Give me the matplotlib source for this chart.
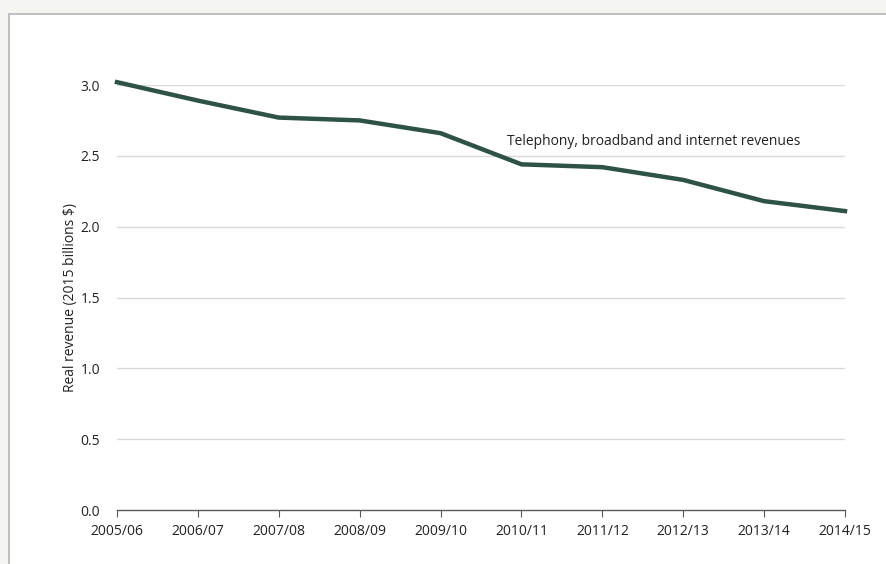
import matplotlib
matplotlib.use("Agg")
import matplotlib.pyplot as plt
from matplotlib.patches import Rectangle

# --- data ---
years = ["2005/06", "2006/07", "2007/08", "2008/09", "2009/10",
         "2010/11", "2011/12", "2012/13", "2013/14", "2014/15"]
revenue = [3.02, 2.89, 2.77, 2.75, 2.66, 2.44, 2.42, 2.33, 2.18, 2.11]
yticks = [0.0, 0.5, 1.0, 1.5, 2.0, 2.5, 3.0]
series_label = "Telephony, broadband and internet revenues"

plt.rcParams["font.family"] = ["Open Sans", "DejaVu Sans"]

fig = plt.figure(figsize=(8.86, 5.64), dpi=100)
fig.patch.set_facecolor("#f5f5f1")

# white panel with grey border, drawn behind the axes
panel = Rectangle((9 / 886, -0.05), 1.0, 1 - 14 / 564 + 0.05,
                  transform=fig.transFigure, facecolor="white",
                  edgecolor="#b5b5b5", linewidth=1.2, zorder=-10)
fig.patches.append(panel)

ax = fig.add_axes([117 / 886, 1 - 510 / 564, (845 - 117) / 886, (510 - 85) / 564])
ax.set_zorder(5)
ax.set_facecolor("none")

x = list(range(len(years)))
ax.plot(x, revenue, color="#2e5246", linewidth=3.2, solid_joinstyle="round",
        clip_on=False, zorder=3)

ax.set_xlim(0, len(years) - 1)
ax.set_ylim(0, 3.0)
ax.set_yticks(yticks)
ax.set_yticklabels([f"{v:.1f}" for v in yticks])
ax.set_xticks(x)
ax.set_xticklabels(years)

for v in yticks[1:]:
    ax.axhline(v, color="#d9d9d9", linewidth=1.0, zorder=1)

for s in ["top", "right", "left"]:
    ax.spines[s].set_visible(False)
ax.spines["bottom"].set_color("#595959")
ax.spines["bottom"].set_linewidth(1.0)

ax.tick_params(axis="y", length=0, pad=12, labelsize=10, labelcolor="#222222")
ax.tick_params(axis="x", direction="out", length=5, color="#595959",
               pad=5, labelsize=10, labelcolor="#222222")

ax.set_ylabel("Real revenue (2015 billions $)", fontsize=10, color="#222222",
              labelpad=2)

ax.text(6.63, 2.60, series_label, ha="center", va="center", fontsize=10,
        color="#222222")

fig.savefig("out.png", dpi=100, facecolor=fig.get_facecolor())
